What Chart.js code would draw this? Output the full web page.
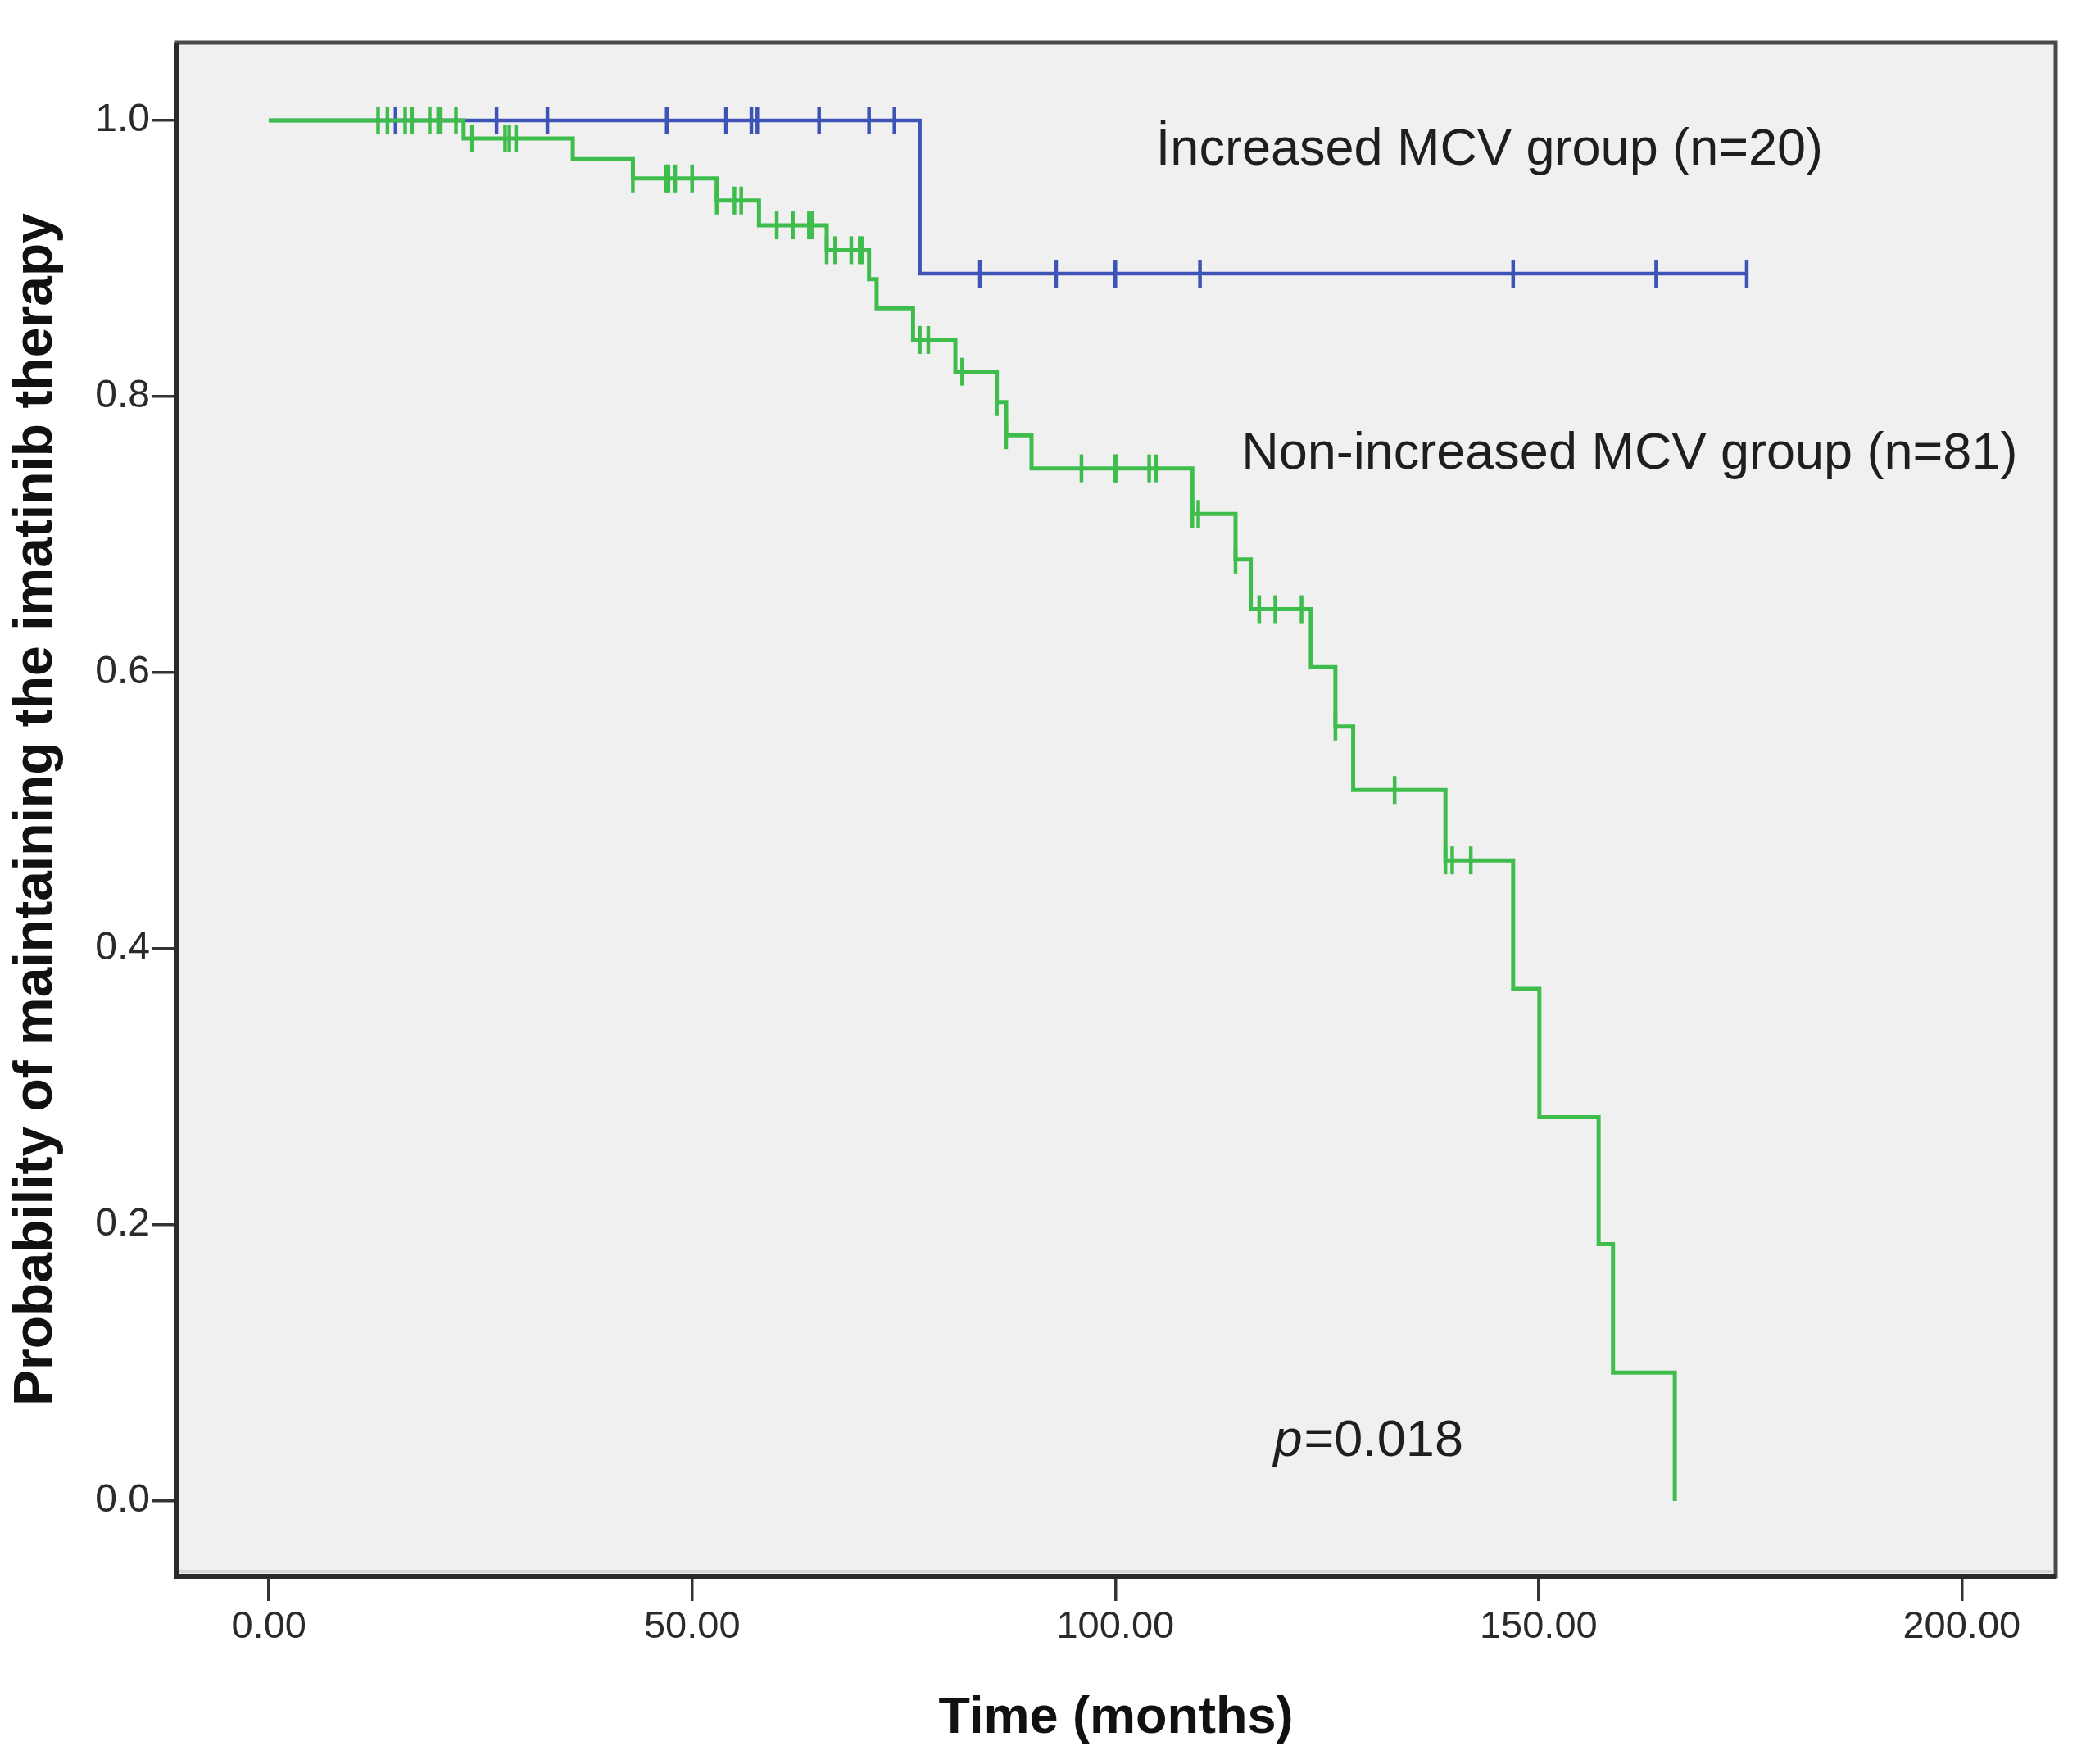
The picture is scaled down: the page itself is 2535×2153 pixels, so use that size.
<!DOCTYPE html>
<html>
<head>
<meta charset="utf-8">
<title>Kaplan-Meier: imatinib therapy by MCV group</title>
<script src="https://cdn.jsdelivr.net/npm/chart.js@4.4.1/dist/chart.umd.min.js"></script>
<style>
  html, body { margin: 0; padding: 0; background: #ffffff; }
  #wrap { width: 2535px; height: 2153px; }
</style>
</head>
<body>
<div id="wrap"><canvas id="kmChart" width="2535" height="2153"></canvas></div>
<script>
// Non-increased MCV group (n=81): step times and survival levels
const greenTimes = [0, 23.0, 35.9, 43.0, 52.9, 57.9, 65.9, 70.9, 71.8, 76.1, 81.1, 86.0, 87.1, 90.1,
                    109.1, 114.2, 116.0, 123.1, 126.0, 128.1, 139.0, 147.0, 150.1, 157.1, 158.8, 166.1];
const greenSurv  = [1.0, 0.987, 0.972, 0.958, 0.942, 0.924, 0.906, 0.885, 0.864, 0.841, 0.818, 0.796, 0.772, 0.748,
                    0.715, 0.682, 0.646, 0.604, 0.561, 0.515, 0.464, 0.371, 0.278, 0.186, 0.093, 0.0];
const greenCensored = [12.9, 14.0, 16.1, 16.9, 19.0, 20.0, 20.3, 22.1,
                       24.0, 27.9, 28.4, 29.2,
                       43.0, 46.9, 47.2, 48.0, 50.0,
                       52.9, 55.0, 55.8,
                       60.0, 61.9, 63.8, 64.2,
                       65.9, 66.9, 68.8, 69.8, 70.1,
                       76.9, 77.9, 81.9, 86.0, 87.1,
                       96.0, 100.0, 100.1, 104.0, 104.8,
                       109.1, 109.8, 114.2, 117.0, 118.9, 122.0,
                       126.0, 133.0, 139.0, 139.8, 142.0];

// Increased MCV group (n=20)
const blueTimes = [0, 76.9, 174.6];
const blueSurv  = [1.0, 0.889, 0.889];
const blueCensored = [14.96, 26.9, 32.9, 47.0, 54.0, 57.0, 57.7, 65.0, 70.9, 73.9,
                      84.0, 93.0, 100.0, 110.0, 147.0, 163.9, 174.6];

const xTickValues = [0, 50, 100, 150, 200];
const yTickValues = [0, 0.2, 0.4, 0.6, 0.8, 1.0];

const groupLabels = ["İncreased MCV group (n=20)", "Non-increased MCV group (n=81)"];
const labelX = [104.8, 114.9];
const labelY = [0.978, 0.758];
const pValueText = "0.018";
const pValueX = 118.7;
const pValueY = 0.043;

const GREEN = "#3fbd4c";
const BLUE = "#3d54b6";
const FONT = "'Liberation Sans', Arial, sans-serif";

function toPoints(times, surv) {
    return times.map((t, i) => ({ x: t, y: surv[i] }));
}

// level of the step curve at time t (censor marks sit on the curve)
function survAt(times, surv, t) {
    let s = surv[0];
    for (let i = 0; i < times.length; i++) {
        if (times[i] <= t) s = surv[i];
    }
    return s;
}

function censorPoints(censored, times, surv) {
    return censored.map(t => ({ x: t, y: survAt(times, surv, t) }));
}

const censorStyle = {
    showLine: false,
    pointStyle: "line",
    rotation: 90,
    pointRadius: 17,
    pointHoverRadius: 17,
    pointBorderWidth: 4.5
};

const framePlugin = {
    id: "frame",
    beforeDraw(chart) {
        const { ctx, chartArea: a } = chart;
        ctx.save();
        ctx.fillStyle = "#f0f0f0";
        ctx.fillRect(a.left, a.top, a.right - a.left, a.bottom - a.top);
        ctx.restore();
    },
    afterDraw(chart) {
        const { ctx, chartArea: a } = chart;
        ctx.save();
        ctx.strokeStyle = "#d6d6d6";
        ctx.lineWidth = 4;
        ctx.beginPath();
        ctx.moveTo(a.left + 4, a.bottom - 6);
        ctx.lineTo(a.right - 4, a.bottom - 6);
        ctx.stroke();
        ctx.strokeStyle = "#4a4a4a";
        ctx.lineWidth = 5;
        ctx.strokeRect(a.left, a.top, a.right - a.left, a.bottom - a.top);
        ctx.strokeStyle = "#2a2a2a";
        ctx.lineWidth = 6;
        ctx.beginPath();
        ctx.moveTo(a.left, a.top);
        ctx.lineTo(a.left, a.bottom);
        ctx.lineTo(a.right, a.bottom);
        ctx.stroke();
        ctx.restore();
    }
};

const notesPlugin = {
    id: "notes",
    afterDatasetsDraw(chart) {
        const { ctx, scales: { x, y } } = chart;
        ctx.save();
        ctx.fillStyle = "#1e1e1e";
        ctx.textBaseline = "middle";
        ctx.textAlign = "left";
        ctx.font = "63px " + FONT;
        groupLabels.forEach((txt, i) => {
            ctx.fillText(txt, x.getPixelForValue(labelX[i]), y.getPixelForValue(labelY[i]));
        });
        const px = x.getPixelForValue(pValueX);
        const py = y.getPixelForValue(pValueY);
        ctx.font = "italic 63px " + FONT;
        ctx.fillText("p", px, py);
        const w = ctx.measureText("p").width;
        ctx.font = "63px " + FONT;
        ctx.fillText("=" + pValueText, px + w + 2, py);
        ctx.restore();
    }
};

const ctx = document.getElementById("kmChart");
new Chart(ctx, {
    type: "line",
    data: {
        datasets: [
            {
                label: "Non-increased MCV group",
                data: toPoints(greenTimes, greenSurv),
                borderColor: GREEN,
                borderWidth: 5,
                stepped: "before",
                pointRadius: 0,
                fill: false
            },
            {
                label: "Increased MCV group",
                data: toPoints(blueTimes, blueSurv),
                borderColor: BLUE,
                borderWidth: 4.5,
                stepped: "before",
                pointRadius: 0,
                fill: false
            },
            Object.assign({
                label: "Non-increased censored",
                data: censorPoints(greenCensored, greenTimes, greenSurv),
                borderColor: GREEN,
                backgroundColor: GREEN
            }, censorStyle),
            Object.assign({
                label: "Increased censored",
                data: censorPoints(blueCensored, blueTimes, blueSurv),
                borderColor: BLUE,
                backgroundColor: BLUE
            }, censorStyle)
        ]
    },
    options: {
        responsive: false,
        animation: false,
        devicePixelRatio: 1,
        events: [],
        layout: { padding: { left: 0, top: 52, right: 26, bottom: 0 } },
        plugins: {
            legend: { display: false },
            tooltip: { enabled: false }
        },
        scales: {
            x: {
                type: "linear",
                min: -10.96,
                max: 211.1,
                afterBuildTicks: (scale) => { scale.ticks = xTickValues.map(v => ({ value: v })); },
                afterFit: (scale) => { scale.height = 229; },
                ticks: {
                    autoSkip: false,
                    maxRotation: 0,
                    padding: 4,
                    color: "#2a2a2a",
                    font: { family: FONT, size: 47 },
                    callback: (v) => Number(v).toFixed(2)
                },
                grid: {
                    display: true,
                    drawOnChartArea: false,
                    drawTicks: true,
                    tickLength: 30,
                    color: "#333333",
                    lineWidth: 3.5
                },
                border: { display: false },
                title: {
                    display: true,
                    text: "Time (months)",
                    color: "#111111",
                    font: { family: FONT, size: 63, weight: "bold" },
                    padding: { top: 0, bottom: 18 }
                }
            },
            y: {
                type: "linear",
                min: -0.0546,
                max: 1.0564,
                afterBuildTicks: (scale) => { scale.ticks = yTickValues.map(v => ({ value: v })); },
                afterFit: (scale) => { scale.width = 215; },
                ticks: {
                    autoSkip: false,
                    padding: 2,
                    color: "#2a2a2a",
                    font: { family: FONT, size: 48 },
                    callback: (v) => Number(v).toFixed(1)
                },
                grid: {
                    display: true,
                    drawOnChartArea: false,
                    drawTicks: true,
                    tickLength: 30,
                    color: "#333333",
                    lineWidth: 3.5
                },
                border: { display: false },
                title: {
                    display: true,
                    text: "Probability of maintaining the imatinib therapy",
                    color: "#111111",
                    font: { family: FONT, size: 66, weight: "bold" },
                    padding: { top: 5, bottom: 0 }
                }
            }
        }
    },
    plugins: [framePlugin, notesPlugin]
});
</script>
</body>
</html>
